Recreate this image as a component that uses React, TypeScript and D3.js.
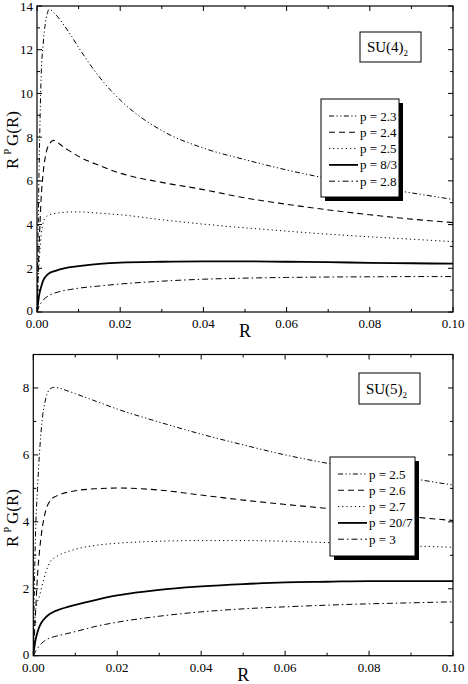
import React from "react";
import * as d3 from "d3";

// ---------- data ----------
const rGrid = [0, 0.0005, 0.001, 0.0015, 0.002, 0.003, 0.004, 0.005, 0.006, 0.008, 0.01, 0.015, 0.02, 0.03, 0.04, 0.05, 0.06, 0.07, 0.08, 0.09, 0.1];

// SU(4)_2
const su4Labels = ["p = 2.3", "p = 2.4", "p = 2.5", "p = 8/3", "p = 2.8"];
const su4P23 = [0, 6.5, 10.8, 12.3, 13.2, 13.85, 13.7, 13.5, 13.25, 12.7, 12.1, 10.75, 9.7, 8.3, 7.5, 6.97, 6.5, 6.1, 5.75, 5.45, 5.15];
const su4P24 = [0, 3.0, 5.2, 6.4, 7.1, 7.7, 7.85, 7.75, 7.6, 7.35, 7.12, 6.7, 6.35, 5.93, 5.6, 5.22, 4.93, 4.67, 4.45, 4.25, 4.09];
const su4P25 = [0, 2.2, 3.5, 4.1, 4.3, 4.45, 4.5, 4.53, 4.55, 4.58, 4.58, 4.52, 4.45, 4.22, 4.02, 3.85, 3.7, 3.56, 3.44, 3.33, 3.22];
const su4P83 = [0, 0.75, 1.15, 1.45, 1.6, 1.78, 1.86, 1.92, 1.97, 2.05, 2.1, 2.2, 2.26, 2.3, 2.32, 2.32, 2.3, 2.28, 2.25, 2.23, 2.21];
const su4P28 = [0, 0.25, 0.42, 0.55, 0.64, 0.77, 0.85, 0.91, 0.96, 1.03, 1.09, 1.19, 1.28, 1.41, 1.5, 1.55, 1.58, 1.6, 1.61, 1.62, 1.62];

// SU(5)_2
const su5Labels = ["p = 2.5", "p = 2.6", "p = 2.7", "p = 20/7", "p = 3"];
const su5P25 = [0, 3.5, 5.0, 6.1, 6.9, 7.7, 7.97, 8.02, 8.0, 7.92, 7.83, 7.6, 7.37, 6.98, 6.62, 6.3, 6.0, 5.75, 5.52, 5.3, 5.1];
const su5P26 = [0, 1.2, 2.4, 3.15, 3.7, 4.35, 4.63, 4.74, 4.8, 4.88, 4.93, 4.99, 5.01, 4.95, 4.8, 4.65, 4.52, 4.4, 4.27, 4.15, 4.04];
const su5P27 = [0, 1.3, 1.6, 1.8, 2.05, 2.5, 2.8, 2.92, 3.0, 3.1, 3.18, 3.3, 3.36, 3.42, 3.44, 3.44, 3.42, 3.38, 3.33, 3.28, 3.24];
const su5P207 = [0, 0.45, 0.7, 0.88, 1.0, 1.15, 1.25, 1.32, 1.37, 1.45, 1.52, 1.67, 1.8, 1.97, 2.07, 2.14, 2.19, 2.21, 2.23, 2.23, 2.23];
const su5P3 = [0, 0.12, 0.22, 0.3, 0.37, 0.47, 0.53, 0.57, 0.6, 0.66, 0.72, 0.88, 1.0, 1.18, 1.31, 1.4, 1.46, 1.51, 1.55, 1.58, 1.61];

const xTicks = [0, 0.02, 0.04, 0.06, 0.08, 0.1];
const su4YTicks = [0, 2, 4, 6, 8, 10, 12, 14];
const su5YTicks = [0, 2, 4, 6, 8];

// ---------- styles ----------
const styles = [
  { dash: "5 2.5 1.2 2.5 1.2 2.5", w: 1 },
  { dash: "6 4", w: 1.1 },
  { dash: "1.2 3", w: 1 },
  { dash: "none", w: 1.8 },
  { dash: "6 3 1.5 3", w: 1 },
];

const FONT = "Liberation Serif, serif";
const txt = { fontFamily: FONT } as React.CSSProperties;

type PanelProps = {
  left: number; right: number; top: number; bottom: number;
  yMax: number; yTicks: number[];
  series: number[][]; labels: string[];
  title: string;
  titleBox: { x: number; y: number; w: number; h: number };
  legend: { x: number; y: number; w: number; h: number; firstY: number; step: number };
  yLabelPos: { x: number; y: number };
  xLabelY: number;
};

function Panel(p: PanelProps) {
  const x = d3.scaleLinear().domain([0, 0.1]).range([p.left, p.right]);
  const y = d3.scaleLinear().domain([0, p.yMax]).range([p.bottom, p.top]);
  const line = d3.line<[number, number]>()
    .x((d) => x(d[0]))
    .y((d) => y(d[1]))
    .curve(d3.curveMonotoneX);

  const xMinor = d3.range(0, 0.1001, 0.01);
  const yMinor = d3.range(0, p.yMax + 0.001, 1);
  const majX = (v: number) => xTicks.some((t) => Math.abs(t - v) < 1e-6);
  const majY = (v: number) => p.yTicks.some((t) => Math.abs(t - v) < 1e-6);

  return (
    <g>
      <defs>
        <clipPath id={"clip" + Math.round(p.top)}>
          <rect x={p.left} y={p.top} width={p.right - p.left} height={p.bottom - p.top} />
        </clipPath>
      </defs>
      <g clipPath={`url(#clip${Math.round(p.top)})`}>
        {p.series.map((s, i) => (
          <path
            key={i}
            d={line(rGrid.map((r, j) => [r, s[j]] as [number, number])) || ""}
            fill="none"
            stroke="#000"
            strokeWidth={styles[i].w}
            strokeDasharray={styles[i].dash}
          />
        ))}
      </g>
      <rect x={p.left} y={p.top} width={p.right - p.left} height={p.bottom - p.top} fill="none" stroke="#000" strokeWidth={1.2} />
      {xMinor.map((v, i) => {
        const L = majX(v) ? 5 : 3;
        const xx = x(v);
        return (
          <g key={"xt" + i}>
            <line x1={xx} x2={xx} y1={p.bottom} y2={p.bottom - L} stroke="#000" strokeWidth={1} />
            <line x1={xx} x2={xx} y1={p.top} y2={p.top + L} stroke="#000" strokeWidth={1} />
          </g>
        );
      })}
      {yMinor.map((v, i) => {
        const L = majY(v) ? 5 : 3;
        const yy = y(v);
        return (
          <g key={"yt" + i}>
            <line x1={p.left} x2={p.left + L} y1={yy} y2={yy} stroke="#000" strokeWidth={1} />
            <line x1={p.right} x2={p.right - L} y1={yy} y2={yy} stroke="#000" strokeWidth={1} />
          </g>
        );
      })}
      {xTicks.map((t, i) => (
        <text key={"xl" + i} x={x(t)} y={p.bottom + 16} textAnchor="middle" style={txt} fontSize={13}>
          {t.toFixed(2)}
        </text>
      ))}
      {p.yTicks.map((t, i) => (
        <text key={"yl" + i} x={p.left - 4} y={y(t) + (t === 0 ? 3 : 4.5)} textAnchor="end" style={txt} fontSize={13}>
          {t}
        </text>
      ))}
      <text x={x(0.05)} y={p.xLabelY} textAnchor="middle" style={txt} fontSize={18}>R</text>
      <text
        transform={`translate(${p.yLabelPos.x},${p.yLabelPos.y}) rotate(-90)`}
        textAnchor="middle"
        style={txt}
        fontSize={17}
      >
        R
        <tspan fontSize={10} dy={-7} dx={3}>P</tspan>
        <tspan dy={7} dx={3}>G(R)</tspan>
      </text>
      <rect x={p.titleBox.x} y={p.titleBox.y} width={p.titleBox.w} height={p.titleBox.h} fill="#fff" stroke="#000" strokeWidth={1} />
      <text x={p.titleBox.x + p.titleBox.w / 2 - 3} y={p.titleBox.y + p.titleBox.h / 2 + 5} textAnchor="middle" style={txt} fontSize={15}>
        {p.title}
        <tspan fontSize={9} dy={4}>2</tspan>
      </text>
      <rect x={p.legend.x + 4} y={p.legend.y + 4} width={p.legend.w} height={p.legend.h} fill="#000" />
      <rect x={p.legend.x} y={p.legend.y} width={p.legend.w} height={p.legend.h} fill="#fff" stroke="#000" strokeWidth={1} />
      {p.labels.map((lab, i) => {
        const yy = p.legend.firstY + i * p.legend.step;
        return (
          <g key={"lg" + i}>
            <line
              x1={p.legend.x + 8}
              x2={p.legend.x + 37}
              y1={yy}
              y2={yy}
              stroke="#000"
              strokeWidth={styles[i].w}
              strokeDasharray={styles[i].dash}
            />
            <text x={p.legend.x + 39} y={yy + 4.5} style={txt} fontSize={13}>{lab}</text>
          </g>
        );
      })}
    </g>
  );
}

export default function App() {
  return (
    <svg width={468} height={684} style={{ position: "absolute", left: 0, top: 0, background: "#fff" }}>
      <rect x={0} y={0} width={468} height={684} fill="#fff" />
      <Panel
        left={37} right={453} top={6} bottom={312}
        yMax={14} yTicks={su4YTicks}
        series={[su4P23, su4P24, su4P25, su4P83, su4P28]}
        labels={su4Labels}
        title="SU(4)"
        titleBox={{ x: 360, y: 32, w: 61, h: 30 }}
        legend={{ x: 321, y: 99, w: 78, h: 98, firstY: 116, step: 16.3 }}
        yLabelPos={{ x: 18, y: 140 }}
        xLabelY={337}
      />
      <Panel
        left={33.3} right={453} top={354.5} bottom={655.7}
        yMax={9} yTicks={su5YTicks}
        series={[su5P25, su5P26, su5P27, su5P207, su5P3]}
        labels={su5Labels}
        title="SU(5)"
        titleBox={{ x: 359, y: 373, w: 61, h: 31 }}
        legend={{ x: 330, y: 457, w: 85, h: 99, firstY: 474, step: 16.3 }}
        yLabelPos={{ x: 18, y: 518 }}
        xLabelY={681}
      />
    </svg>
  );
}
